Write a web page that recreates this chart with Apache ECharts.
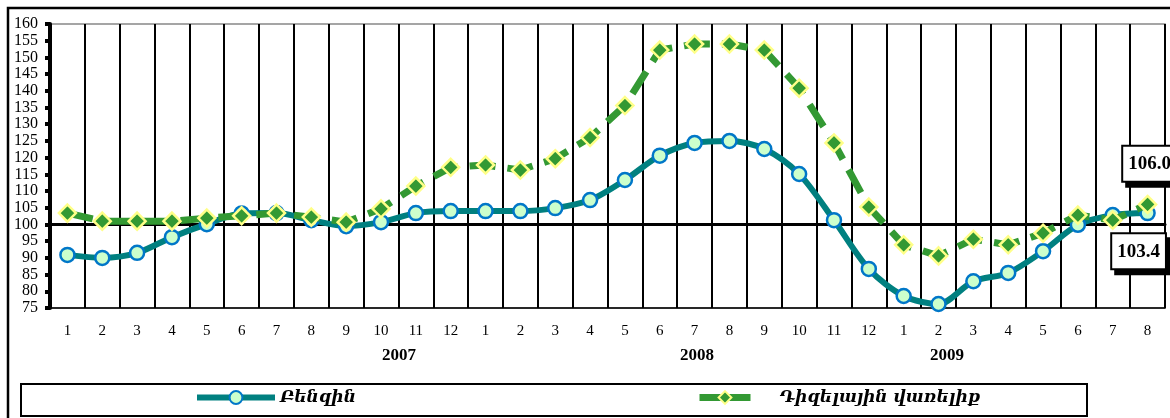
<!DOCTYPE html>
<html>
<head>
<meta charset="utf-8">
<script src="https://cdn.jsdelivr.net/npm/echarts@6/dist/echarts.min.js"></script>
<style>
  html, body { margin: 0; padding: 0; background: #fff; }
  #chart { width: 1170px; height: 418px; }
</style>
</head>
<body>
<div id="chart"></div>
<script>
// months, 2007-01 .. 2009-08
const months = [
  "1", "2", "3", "4", "5", "6", "7", "8", "9", "10", "11", "12",
  "1", "2", "3", "4", "5", "6", "7", "8", "9", "10", "11", "12",
  "1", "2", "3", "4", "5", "6", "7", "8",
];
const years = ["2007", "2008", "2009"];
const yTicks = { min: 75, max: 160, step: 5 };

// Բենզին
const benzin = [
  90.9, 90.0, 91.5, 96.2, 100.1, 103.3, 103.4, 101.3, 99.5, 100.7, 103.4, 104.0,
  104.0, 104.0, 104.9, 107.3, 113.3, 120.6, 124.4, 125.0, 122.6, 115.1, 101.3, 86.7,
  78.6, 76.2, 83.0, 85.5, 92.0, 99.9, 102.8, 103.4,
];
// Դիզելային վառելիք
const diesel = [
  103.4, 101.0, 101.0, 101.0, 101.9, 102.6, 103.4, 102.2, 100.7, 104.7, 111.5, 117.1,
  117.8, 116.3, 119.7, 126.0, 135.6, 152.2, 154.0, 154.0, 152.2, 140.8, 124.4, 105.2,
  93.9, 90.6, 95.6, 93.9, 97.4, 102.8, 101.3, 106.0,
];

const serif = "Liberation Serif";
const chart = echarts.init(document.getElementById("chart"));

// label box for the last point of each series
function lastLabel(offset, pos) {
  return {
    show: true,
    position: pos,
    offset: offset,
    formatter: (p) => p.value.toFixed(1),
    fontFamily: serif,
    fontWeight: "bold",
    fontSize: 19,
    color: "#000",
    backgroundColor: "#fff",
    borderColor: "#000",
    borderWidth: 2,
    padding: [8, 5, 7, 5],
    shadowColor: "#000",
    shadowOffsetX: 4,
    shadowOffsetY: 5,
  };
}

const benzinData = benzin.map((v, i) =>
  i === benzin.length - 1 ? { value: v, label: lastLabel([-9, 8], "bottom") } : v
);
const dieselData = diesel.map((v, i) =>
  i === diesel.length - 1 ? { value: v, label: lastLabel([2, -9], "top") } : v
);

const legendText = {
  fontFamily: "DejaVu Serif",
  fontStyle: "italic",
  fontWeight: "bold",
  fontSize: 17,
  color: "#000",
};

const option = {
  animation: false,
  grid: {
    left: 50,
    right: 5,
    top: 24,
    bottom: 110,
    show: true,
    borderColor: "#888",
    borderWidth: 1.5,
  },
  graphic: [
    {
      type: "rect",
      shape: { x: 8, y: 8, width: 1200, height: 440 },
      style: { fill: "none", stroke: "#000", lineWidth: 2.5 },
      z: -1,
    },
    {
      // legend frame
      type: "rect",
      shape: { x: 21, y: 384, width: 1066, height: 32 },
      style: { fill: "none", stroke: "#000", lineWidth: 2 },
    },
    ...years.map((y, i) => ({
      type: "text",
      x: [399, 697, 947][i],
      y: 356,
      style: {
        text: y,
        font: "bold 17px " + serif,
        fill: "#000",
        textAlign: "center",
        textVerticalAlign: "middle",
      },
    })),
  ],
  legend: [
    {
      left: 194,
      top: 389,
      padding: 0,
      itemWidth: 78,
      itemHeight: 16,
      lineStyle: { width: 6 },
      textStyle: legendText,
      data: ["Բենզին"],
    },
    {
      left: 696,
      top: 389,
      padding: 0,
      itemWidth: 51,
      itemHeight: 16,
      lineStyle: { width: 7, type: "solid" },
      textStyle: Object.assign({ padding: [0, 0, 0, 24] }, legendText),
      data: ["Դիզելային վառելիք"],
    },
  ],
  xAxis: [
    {
      type: "category",
      data: months,
      boundaryGap: true,
      axisLine: { lineStyle: { color: "#000", width: 1.5 } },
      axisTick: { show: false },
      axisLabel: {
        fontFamily: serif,
        fontSize: 15,
        color: "#000",
        margin: 16,
        interval: 0,
      },
      splitLine: { show: true, lineStyle: { color: "#000", width: 2 } },
    },
    {
      // axis crossing at 100
      type: "category",
      data: months,
      position: "bottom",
      offset: -83.5,
      axisLine: { lineStyle: { color: "#000", width: 3 } },
      axisTick: { show: true, length: 6, lineStyle: { color: "#000", width: 2 } },
      axisLabel: { show: false },
      splitLine: { show: false },
    },
  ],
  yAxis: {
    type: "value",
    min: yTicks.min,
    max: yTicks.max,
    interval: yTicks.step,
    axisLine: { show: true, lineStyle: { color: "#000", width: 4 } },
    axisTick: { show: true, length: 5, lineStyle: { color: "#000", width: 4 } },
    axisLabel: {
      fontFamily: serif,
      fontSize: 16,
      lineHeight: 12,
      color: "#000",
      margin: 12,
      showMinLabel: true,
      showMaxLabel: true,
      hideOverlap: false,
    },
    splitLine: { show: false },
  },
  series: [
    {
      name: "Բենզին",
      type: "line",
      smooth: 0.3,
      data: benzinData,
      symbol: "circle",
      symbolSize: 14,
      lineStyle: { color: "#008080", width: 6 },
      itemStyle: { color: "#ccffcc", borderColor: "#0077c8", borderWidth: 2.5 },
      color: "#008080",
      z: 3,
    },
    {
      name: "Դիզելային վառելիք",
      type: "line",
      data: dieselData,
      symbol: "diamond",
      symbolSize: 17,
      lineStyle: { color: "#339933", width: 7, type: [26, 12] },
      itemStyle: { color: "#339933", borderColor: "#ffff88", borderWidth: 2.5 },
      color: "#339933",
      z: 4,
    },
  ],
};

chart.setOption(option);
</script>
</body>
</html>
